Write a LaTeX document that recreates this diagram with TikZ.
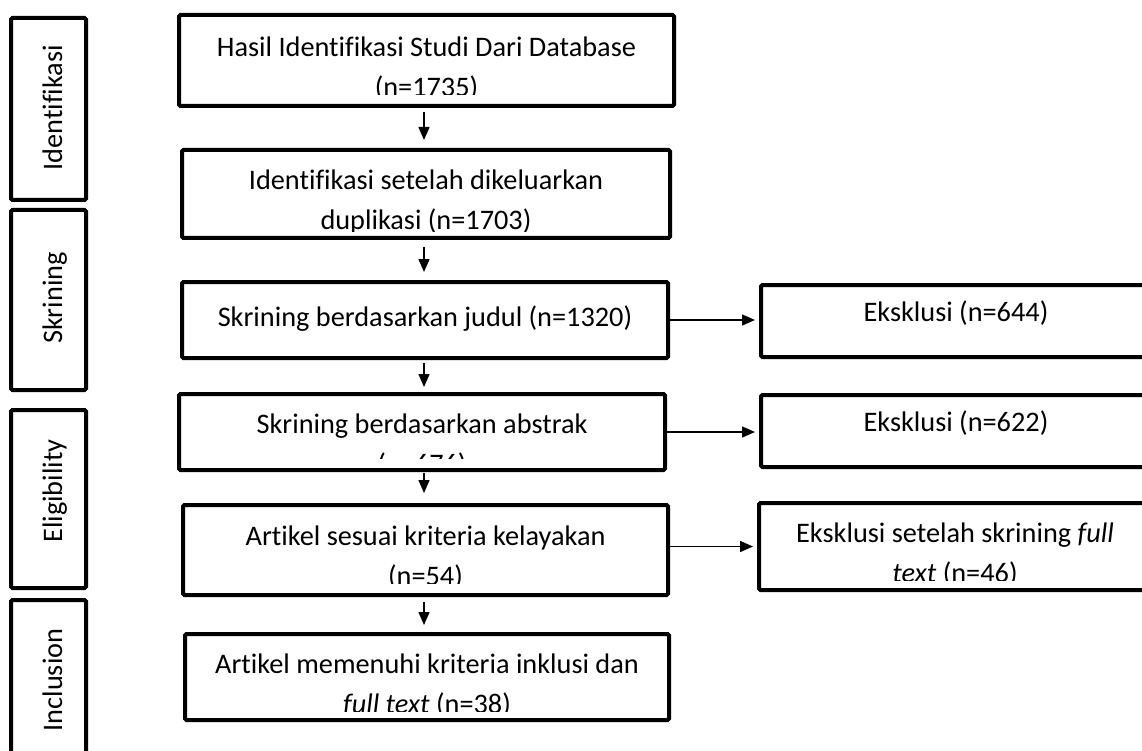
\documentclass[tikz,border=0pt]{standalone}
\usepackage{fontspec}
\setmainfont{Carlito}[Ligatures={NoCommon}, RawFeature={-liga;-clig}]
\usetikzlibrary{arrows.meta}
\begin{document}
\begin{tikzpicture}[x=1pt,y=-1pt,
  box/.style={draw=black, line width=4pt, rounded corners=1.5pt, inner sep=0pt},
  txt/.style={inner sep=0pt, anchor=base, font=\fontsize{28.3}{40}\selectfont},
  side/.style={txt, rotate=90},
  arr/.style={line width=1.5pt, -{Triangle[length=13pt,width=11pt]}}
]
\clip (0,0) rectangle (1142,751);
\fill[white] (0,0) rectangle (1142,751);
\coordinate (ax) at (424,0);

% side boxes
\node[box, minimum width=75pt, minimum height=182pt] (s1) at (48.5,109) {};
\node[box, minimum width=75pt, minimum height=180pt] (s2) at (48.5,300) {};
\node[box, minimum width=75pt, minimum height=178pt] (s3) at (48.5,499) {};
\node[box, minimum width=75pt, minimum height=178pt] (s4) at (48.5,689) {};
\node[side] (ls1) at (62,108) {Identifikasi};
\node[side] (ls2) at (62,298) {Skrining};
\node[side] (ls3) at (62,491) {Eligibility};
\node[side] (ls4) at (62,680) {Inclusion};

% main boxes
\node[box, minimum width=495pt, minimum height=91pt] (b1) at (426.5,60.5) {};
\node[box, minimum width=488pt, minimum height=88pt] (b2) at (426,194) {};
\node[box, minimum width=486pt, minimum height=76pt] (b3) at (425,320) {};
\node[box, minimum width=486pt, minimum height=76pt] (b4) at (422,432) {};
\node[box, minimum width=485pt, minimum height=90pt] (b5) at (425.5,550) {};
\node[box, minimum width=484pt, minimum height=86pt] (b6) at (427,677) {};
\node[box, minimum width=390pt, minimum height=72pt] (e1) at (956,321) {};
\node[box, minimum width=390pt, minimum height=72pt] (e2) at (956,431) {};
\node[box, minimum width=392pt, minimum height=87pt] (e3) at (955,546.5) {};

% texts (clipped like the original text boxes)
\begin{scope}
  \clip ([yshift=13pt]b1.south west) rectangle (b1.north east);
  \node[txt] (t1a) at (426.5,57) {Hasil Identifikasi Studi Dari Database};
  \node[txt] (t1b) at (426.5,97) {(n=1735)};
\end{scope}
\begin{scope}
  \clip ([yshift=8pt]b2.south west) rectangle (b2.north east);
  \node[txt] (t2a) at (426,190) {Identifikasi setelah dikeluarkan};
  \node[txt] (t2b) at (426,230) {duplikasi (n=1703)};
\end{scope}
\node[txt] (t3) at (425,326) {Skrining berdasarkan judul (n=1320)};
\begin{scope}
  \clip ([yshift=14pt]b4.south west) rectangle (b4.north east);
  \node[txt] (t4a) at (422,433) {Skrining berdasarkan abstrak};
  \node[txt] (t4b) at (422,473) {(n=676)};
\end{scope}
\begin{scope}
  \clip ([yshift=14pt]b5.south west) rectangle (b5.north east);
  \node[txt] (t5a) at (425.5,545) {Artikel sesuai kriteria kelayakan};
  \node[txt] (t5b) at (425.5,585) {(n=54)};
\end{scope}
\begin{scope}
  \clip ([yshift=11pt]b6.south west) rectangle (b6.north east);
  \node[txt] (t6a) at (427,673) {Artikel memenuhi kriteria inklusi dan};
  \node[txt] (t6b) at (427,713) {\textit{full text} (n=38)};
\end{scope}
\node[txt] (te1) at (956,321) {Eksklusi (n=644)};
\node[txt] (te2) at (956,431) {Eksklusi (n=622)};
\begin{scope}
  \clip ([yshift=12pt]e3.south west) rectangle (e3.north east);
  \node[txt] (te3a) at (955,542) {Eksklusi setelah skrining \textit{full}};
  \node[txt] (te3b) at (955,582) {\textit{text} (n=46)};
\end{scope}

% vertical arrows
\draw[arr, shorten <=4pt, shorten >=8pt] (b1.south -| ax) -- (b2.north -| ax);
\draw[arr, shorten <=7pt, shorten >=8pt] (b2.south -| ax) -- (b3.north -| ax);
\draw[arr, shorten <=3pt, shorten >=5pt] (b3.south -| ax) -- (b4.north -| ax);
\draw[arr, shorten <=1pt, shorten >=10pt] (b4.south -| ax) -- (b5.north -| ax);
\draw[arr, shorten <=5pt, shorten >=7pt] (b5.south -| ax) -- (b6.north -| ax);

% horizontal arrows
\draw[arr, shorten >=4pt] (b3.east) -- (b3.east -| e1.west);
\draw[arr, shorten >=4pt] (b4.east) -- (b4.east -| e2.west);
\draw[arr, shorten >=4pt] (b5.east |- e3.west) -- (e3.west);
\end{tikzpicture}
\end{document}
